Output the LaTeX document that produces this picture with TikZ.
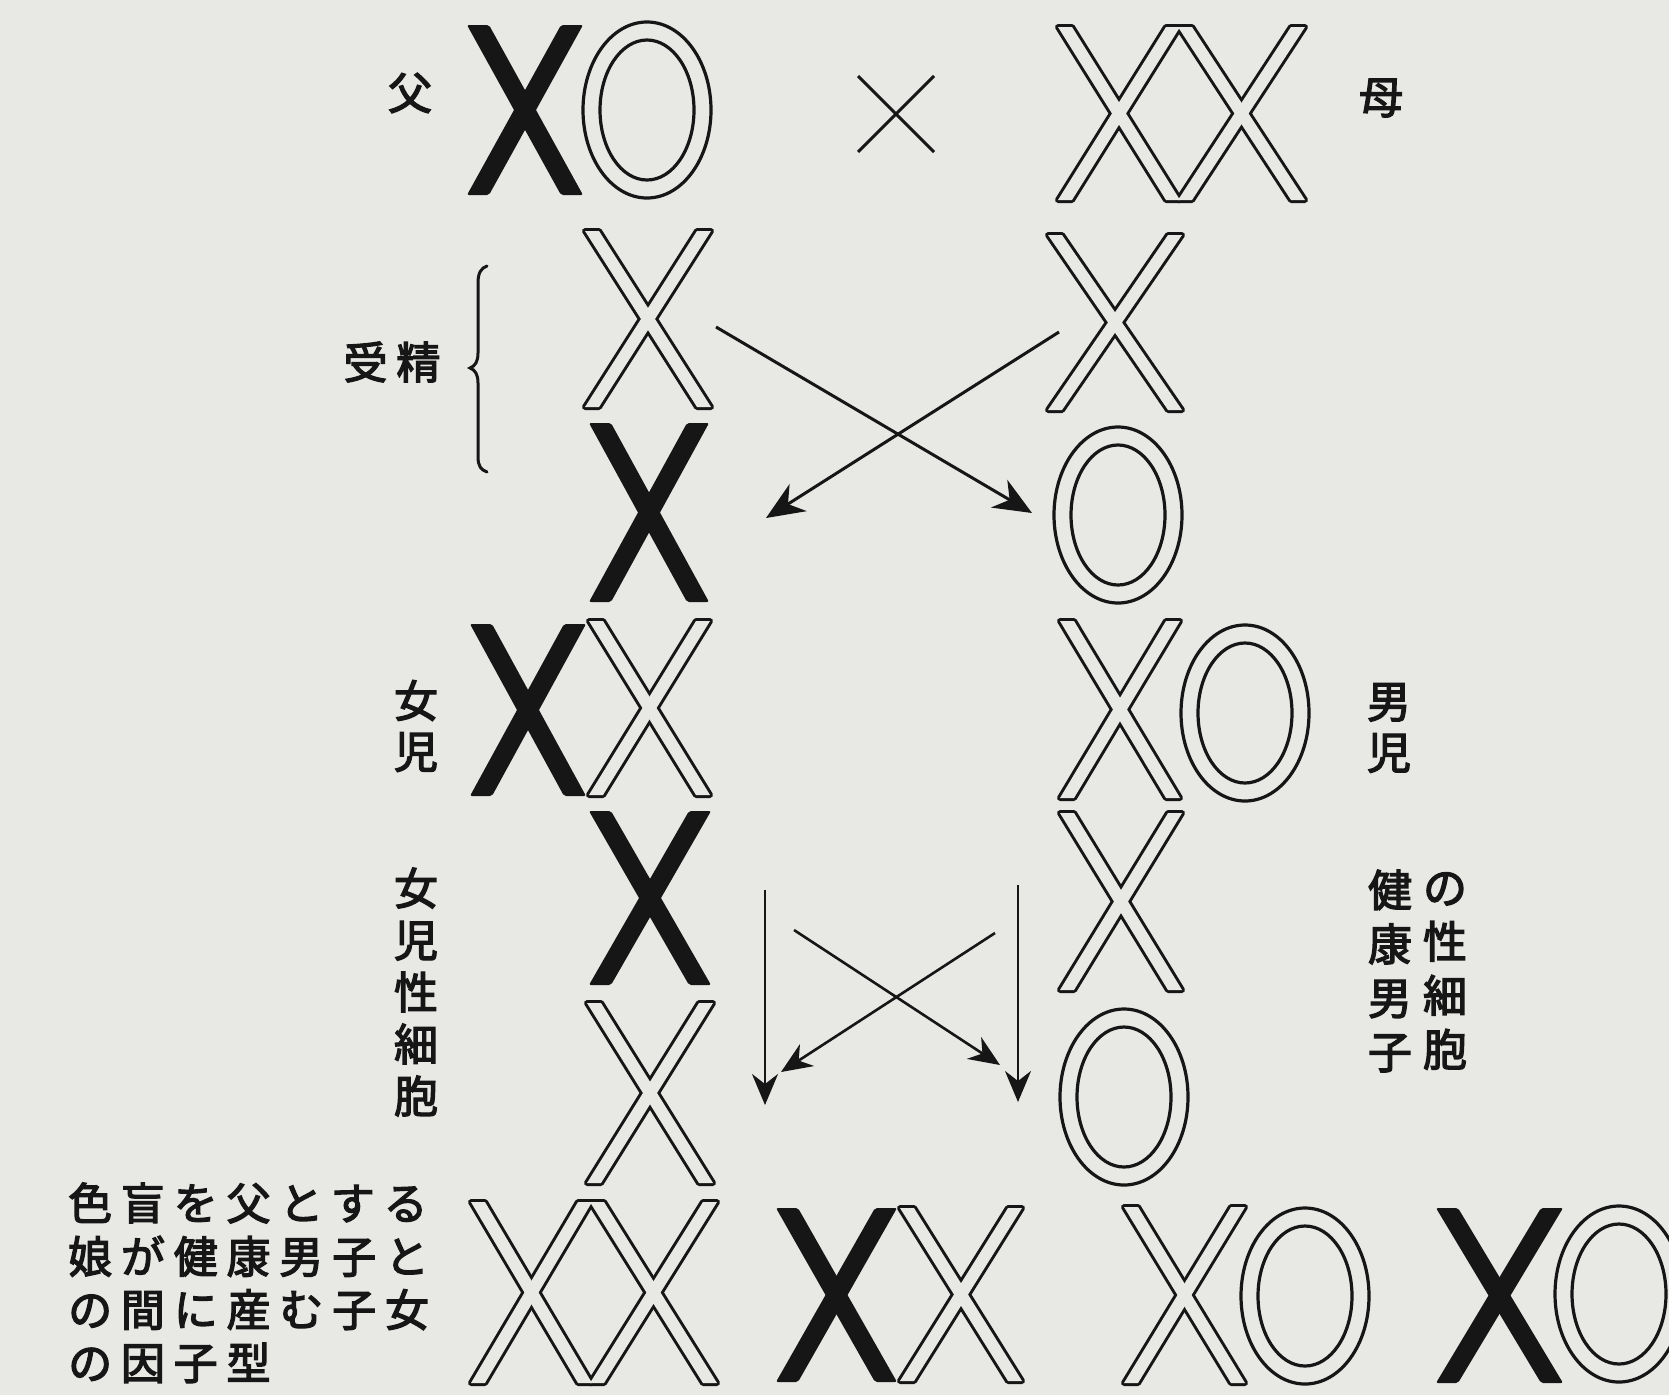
\documentclass[tikz,border=0pt]{standalone}
\usepackage{fontspec}
\usetikzlibrary{arrows.meta}
\newfontfamily\jp{Noto Sans CJK JP}[FakeBold=3]
\newfontfamily\jpwide{Noto Sans CJK JP}[LetterSpace=20,FakeBold=3]
\definecolor{paper}{RGB}{232,232,229}
\definecolor{ink}{RGB}{22,22,22}
\tikzset{
  kanji/.style={font=\jp\fontsize{44}{51}\selectfont,text=ink,inner sep=0pt,align=center},
  kanjirow/.style={font=\jpwide\fontsize{44}{53}\selectfont,text=ink,inner sep=0pt},
  xedge/.style={draw=ink,line width=6pt,line join=round},
  ringline/.style={draw=ink,line width=3.2pt},
  arr/.style={draw=ink,line width=3pt,-{Stealth[length=38pt,width=32pt,inset=12pt]}},
  arrsm/.style={draw=ink,line width=2.6pt,-{Stealth[length=31pt,width=26pt,inset=10pt]}}
}
% X glyphs: left, top, right, bottom
\newcommand{\solidX}[4]{%
  \fill[ink,rounded corners=2pt] (#1,#2) -- ++(22,0) -- (#3,#4) -- ++(-22,0) -- cycle;
  \fill[ink,rounded corners=2pt] (#3,#2) -- ++(-22,0) -- (#1,#4) -- ++(22,0) -- cycle;}
\newcommand{\hollowX}[3]{%
  \foreach \l/\r in {#1} {
    \draw[xedge] (\l,#2) -- ++(14,0) -- (\r,#3) -- ++(-14,0) -- cycle;
    \draw[xedge] (\r,#2) -- ++(-14,0) -- (\l,#3) -- ++(14,0) -- cycle;
  }
  \foreach \l/\r in {#1} {
    \fill[paper] (\l,#2) -- ++(14,0) -- (\r,#3) -- ++(-14,0) -- cycle;
    \fill[paper] (\r,#2) -- ++(-14,0) -- (\l,#3) -- ++(14,0) -- cycle;
  }}
\newcommand{\ringO}[2]{%
  \draw[ringline] (#1,#2) ellipse [x radius=64, y radius=88]
                  (#1,#2) ellipse [x radius=47, y radius=70];}

\begin{document}
\begin{tikzpicture}[x=1pt,y=-1pt]
    \fill[paper] (0,0) rectangle (1669,1395);
    \useasboundingbox (0,0) rectangle (1669,1395);
    % parents
    \solidX{467}{25}{583}{195}
    \ringO{647}{110}
    \draw[ink,line width=3pt] (858,76) -- (934,152) (934,76) -- (858,152);
    \hollowX{1058/1180,1178/1305}{27}{200}
    % gametes
    \hollowX{585/711}{231}{407}
    \hollowX{1048/1182}{235}{410}
    \solidX{589}{423}{709}{602}
    \ringO{1118}{515}
    % children
    \hollowX{589/710}{621}{795}
    \solidX{470}{624}{586}{796}
    \hollowX{1060/1180}{621}{798}
    \ringO{1245}{713}
    % gametes of the daughter and of the healthy man
    \solidX{589}{811}{711}{985}
    \hollowX{1060/1182}{813}{990}
    \hollowX{587/713}{1003}{1183}
    \ringO{1124}{1097}
    % offspring
    \hollowX{471/592,590/717}{1202}{1383}
    \hollowX{900/1022}{1208}{1381}
    \solidX{776}{1208}{897}{1382}
    \hollowX{1124/1245}{1207}{1383}
    \ringO{1305}{1296}
    \solidX{1436}{1208}{1563}{1383}
    \begin{scope}
      \clip (0,0) rectangle (1669,1395);
      \ringO{1619}{1294}
    \end{scope}
    % arrows
    \coordinate (a1s) at (716,327);  \coordinate (a1e) at (1032,513);
    \coordinate (a2s) at (1059,332); \coordinate (a2e) at (766,518);
    \draw[arr] (a1s) -- (a1e);
    \draw[arr] (a2s) -- (a2e);
    \coordinate (v1s) at (765,890);  \coordinate (v1e) at (765,1105);
    \coordinate (v2s) at (1018,885); \coordinate (v2e) at (1018,1102);
    \coordinate (c1s) at (794,930);  \coordinate (c1e) at (1000,1065);
    \coordinate (c2s) at (995,933);  \coordinate (c2e) at (781,1072);
    \draw[arrsm] (v1s) -- (v1e);
    \draw[arrsm] (v2s) -- (v2e);
    \draw[arrsm] (c1s) -- (c1e);
    \draw[arrsm] (c2s) -- (c2e);
    % brace
    \draw[ink,line width=3pt,line cap=round] (487,266) .. controls (481,268) and (478,273) .. (478,283)
      -- (478,353) .. controls (478,362) and (475,366) .. (470,368)
      .. controls (475,370) and (478,374) .. (478,383)
      -- (478,457) .. controls (478,466) and (481,470) .. (487,472);
    % labels
    \node[kanji] (father) at (410,93) {父};
    \node[kanji] (mother) at (1381,98) {母};
    \node[kanjirow] (fert) at (392,362) {受精};
    \node[kanji] (girl) at (416,726) {女\\児};
    \node[kanji] (boy) at (1389,728) {男\\児};
    \node[kanji,font=\jp\fontsize{44}{52}\selectfont] (girlcell) at (416,992) {女\\児\\性\\細\\胞};
    \node[kanji,font=\jp\fontsize{44}{54}\selectfont] (mancell1) at (1390,971) {健\\康\\男\\子};
    \node[kanji,font=\jp\fontsize{44}{54}\selectfont] (mancell2) at (1445,971) {の\\性\\細\\胞};
    \foreach \t [count=\i] in {色盲を父とする,娘が健康男子と,の間に産む子女,の因子型}
      \node[kanjirow,anchor=west] (note\i) at (68,{1203+53.3*(\i-1)}) {\t};
\end{tikzpicture}
\end{document}
